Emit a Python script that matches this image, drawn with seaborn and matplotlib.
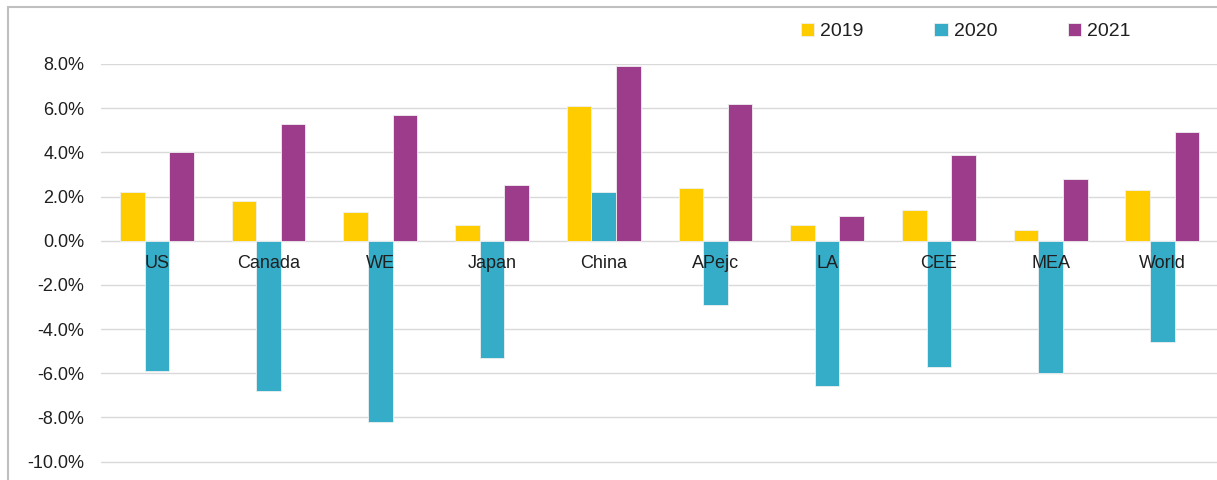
import matplotlib
matplotlib.use("Agg")
import matplotlib.pyplot as plt
from matplotlib.patches import Rectangle
from matplotlib.ticker import FuncFormatter, FixedLocator
import seaborn as sns
import pandas as pd

regions = ["US", "Canada", "WE", "Japan", "China", "APejc", "LA", "CEE", "MEA", "World"]
years = ["2019", "2020", "2021"]
v2019 = [2.2, 1.8, 1.3, 0.7, 6.1, 2.4, 0.7, 1.4, 0.5, 2.3]
v2020 = [-5.9, -6.8, -8.2, -5.3, 2.2, -2.9, -6.6, -5.7, -6.0, -4.6]
v2021 = [4.0, 5.3, 5.7, 2.5, 7.9, 6.2, 1.1, 3.9, 2.8, 4.9]
y_ticks = [-10, -8, -6, -4, -2, 0, 2, 4, 6, 8]
colors = ["#FFCC00", "#36ADC8", "#9E3C8C"]

rows = []
for yr, vals in zip(years, [v2019, v2020, v2021]):
    for r, v in zip(regions, vals):
        rows.append({"region": r, "year": yr, "value": v})
df = pd.DataFrame(rows)

sns.set_theme(style="white")
plt.rcParams["font.family"] = ["Liberation Sans", "DejaVu Sans"]
text_color = "#1f1f1f"

fig = plt.figure(figsize=(12.17, 4.8), dpi=100)
# y range -10.2..8 : top at 64 px, bottom at ~466 px
ax = fig.add_axes([0.083, 0.0292, 0.918, 0.8375])

sns.barplot(data=df, x="region", y="value", hue="year", order=regions,
            hue_order=years, palette=colors, saturation=1, width=0.66,
            edgecolor="#f0f0f0", linewidth=0.6, errorbar=None, ax=ax)

ax.set_ylim(-10.2, 8)
ax.set_xlim(-0.5, len(regions) - 0.5)
ax.yaxis.set_major_locator(FixedLocator(y_ticks))
ax.yaxis.set_major_formatter(FuncFormatter(lambda v, p: f"{v:.1f}%"))
ax.grid(axis="y", color="#d9d9d9", linewidth=1)
ax.set_axisbelow(True)
ax.xaxis.set_zorder(5)
for s in ["top", "right", "left"]:
    ax.spines[s].set_visible(False)
ax.spines["bottom"].set_position(("data", 0))
ax.spines["bottom"].set_visible(False)
ax.tick_params(axis="x", length=0, pad=10, labelsize=13, labelcolor=text_color)
ax.tick_params(axis="y", length=0, pad=12, labelsize=13, labelcolor=text_color)
ax.set_xlabel("")
ax.set_ylabel("")

ax.legend(loc="center", bbox_to_anchor=(0.7935, 0.9345), bbox_transform=fig.transFigure,
          ncol=3, frameon=False, fontsize=14, handlelength=0.7, handleheight=0.7,
          handletextpad=0.3, columnspacing=3.63, labelcolor=text_color)

fig.patches.append(Rectangle((8 / 1217, -0.1), 1.2, (480 - 7) / 480 + 0.1,
                             transform=fig.transFigure, fill=False,
                             edgecolor="#bfbfbf", linewidth=1.5))

fig.savefig("out.png", dpi=100)
